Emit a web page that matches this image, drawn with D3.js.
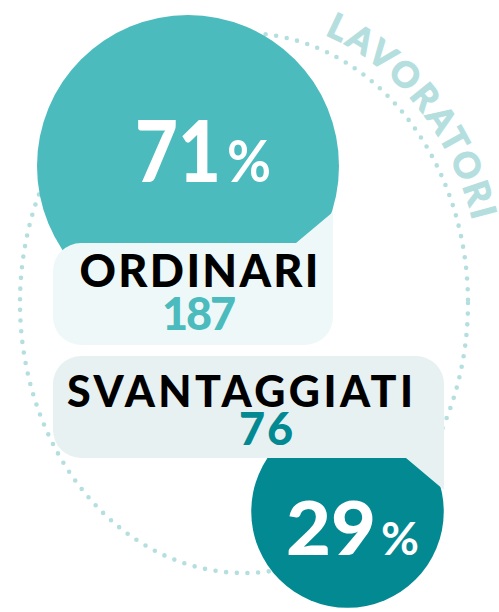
<!DOCTYPE html>
<html>
<head>
<meta charset="utf-8">
<script src="https://cdn.jsdelivr.net/npm/d3@7"></script>
<style>
    html, body { margin: 0; padding: 0; background: #fff; }
    svg { display: block; }
    text { font-family: "Lato", "Noto Sans", sans-serif; }
</style>
</head>
<body>
<svg id="chart" width="499" height="612"></svg>
<script>
const categories = ["ORDINARI", "SVANTAGGIATI"];
const counts = [187, 76];
const percents = [71, 29];
const groupLabel = "LAVORATORI";

const svg = d3.select("#chart");

const colors = {
    "circle": ["#4bbbbd", "#028991"],
    "box": ["#eff8f8", "#e7f1f2"],
    "count": ["#4bbbbd", "#028991"],
    "dots": "#b5dfdf",
};

// circle area follows the count
const rScale = d3.scaleSqrt()
    .domain([0, d3.max(counts)])
    .range([0, 151]);

const layout = [
    { "cx": 188, "cy": 166, "box": [53, 333, 243, 345], "tail": [296, 212],
      "label": [199, 287, 239, 45], "count": [199, 330, 74, 45],
      "pct": [178, 182, 86, 86], "sign": [249, 182, 44, 58] },
    { "cx": 347.5, "cy": 511.5, "box": [53, 444, 356, 458], "tail": [406, 490],
      "label": [240, 407, 346, 43], "count": [266, 445, 54, 45],
      "pct": [331, 555, 90, 74], "sign": [400, 555, 38, 46] },
];

// ---- DOTTED RING ---- //

const ring = { "cx": 244, "cy": 303, "rx": 224, "ry": 270 };

svg.append("ellipse")
    .attr("cx", ring.cx)
    .attr("cy", ring.cy)
    .attr("rx", ring.rx)
    .attr("ry", ring.ry)
    .attr("fill", "none")
    .attr("stroke", colors.dots)
    .attr("stroke-width", 4.6)
    .attr("stroke-linecap", "round")
    .attr("stroke-dasharray", "0 10.7");

// text along the ring, outside it
const off = 15;
const trx = ring.rx + off, try_ = ring.ry + off;
const arcPath = `M${ring.cx - trx},${ring.cy} A${trx},${try_} 0 1 1 ${ring.cx + trx},${ring.cy} A${trx},${try_} 0 1 1 ${ring.cx - trx},${ring.cy}`;

const guide = svg.append("path")
    .attr("id", "ringText")
    .attr("d", arcPath)
    .attr("fill", "none");

const node = guide.node();
const total = node.getTotalLength();
let startLen = 0, endLen = 0;
for (let l = 0; l < total / 2; l += 0.5) {
    const p = node.getPointAtLength(l);
    if (!startLen && p.x >= 324) startLen = l;
    if (startLen && p.x > ring.cx && p.y >= 220) { endLen = l; break; }
}

svg.append("text")
    .attr("fill", colors.dots)
    .attr("stroke", colors.dots)
    .attr("stroke-width", 1.3)
    .attr("font-size", 35)
    .attr("font-weight", 700)
    .append("textPath")
        .attr("href", "#ringText")
        .attr("startOffset", startLen)
        .attr("textLength", endLen - startLen)
        .attr("lengthAdjust", "spacing")
        .text(groupLabel);

// ---- CIRCLES ---- //

svg.selectAll(".bubble")
    .data(counts)
    .enter()
    .append("circle")
        .attr("class", "bubble")
        .attr("cx", (d, i) => layout[i].cx)
        .attr("cy", (d, i) => layout[i].cy)
        .attr("r", d => rScale(d))
        .attr("fill", (d, i) => colors.circle[i]);

// ---- LABEL BOXES ---- //

function boxPath(b, t, i) {
    const [x0, x1, y0, y1] = b;
    const r = 28;
    const p = d3.path();
    p.moveTo(x0, y0 + r);
    p.arcTo(x0, y0, x0 + r, y0, r);
    if (i == 0) {
        p.lineTo(t[0], y0);
        p.lineTo(x1, t[1]);
        p.lineTo(x1, y1 - r);
        p.arcTo(x1, y1, x1 - r, y1, r);
    } else {
        p.lineTo(x1 - r, y0);
        p.arcTo(x1, y0, x1, y0 + r, r);
        p.lineTo(x1, t[1]);
        p.lineTo(t[0], y1);
    }
    p.lineTo(x0 + r, y1);
    p.arcTo(x0, y1, x0, y1 - r, r);
    p.closePath();
    return p.toString();
}

svg.selectAll(".box")
    .data(categories)
    .enter()
    .append("path")
        .attr("class", "box")
        .attr("d", (d, i) => boxPath(layout[i].box, layout[i].tail, i))
        .attr("fill", (d, i) => colors.box[i]);

// ---- TEXTS ---- //

function put(pos, txt, fill, weight, adjust) {
    svg.append("text")
        .attr("x", pos[0])
        .attr("y", pos[1])
        .attr("text-anchor", "middle")
        .attr("font-size", pos[3])
        .attr("font-weight", weight)
        .attr("fill", fill)
        .attr("textLength", pos[2])
        .attr("lengthAdjust", adjust)
        .text(txt);
}

categories.forEach((c, i) => {
    const L = layout[i];
    put(L.label, c, "#000", 900, "spacing");
    put(L.count, counts[i], colors.count[i], 900, "spacing");
    put(L.pct, percents[i], "#fff", 900, "spacingAndGlyphs");
    put(L.sign, "%", "#fff", 700, "spacingAndGlyphs");
});
</script>
</body>
</html>
